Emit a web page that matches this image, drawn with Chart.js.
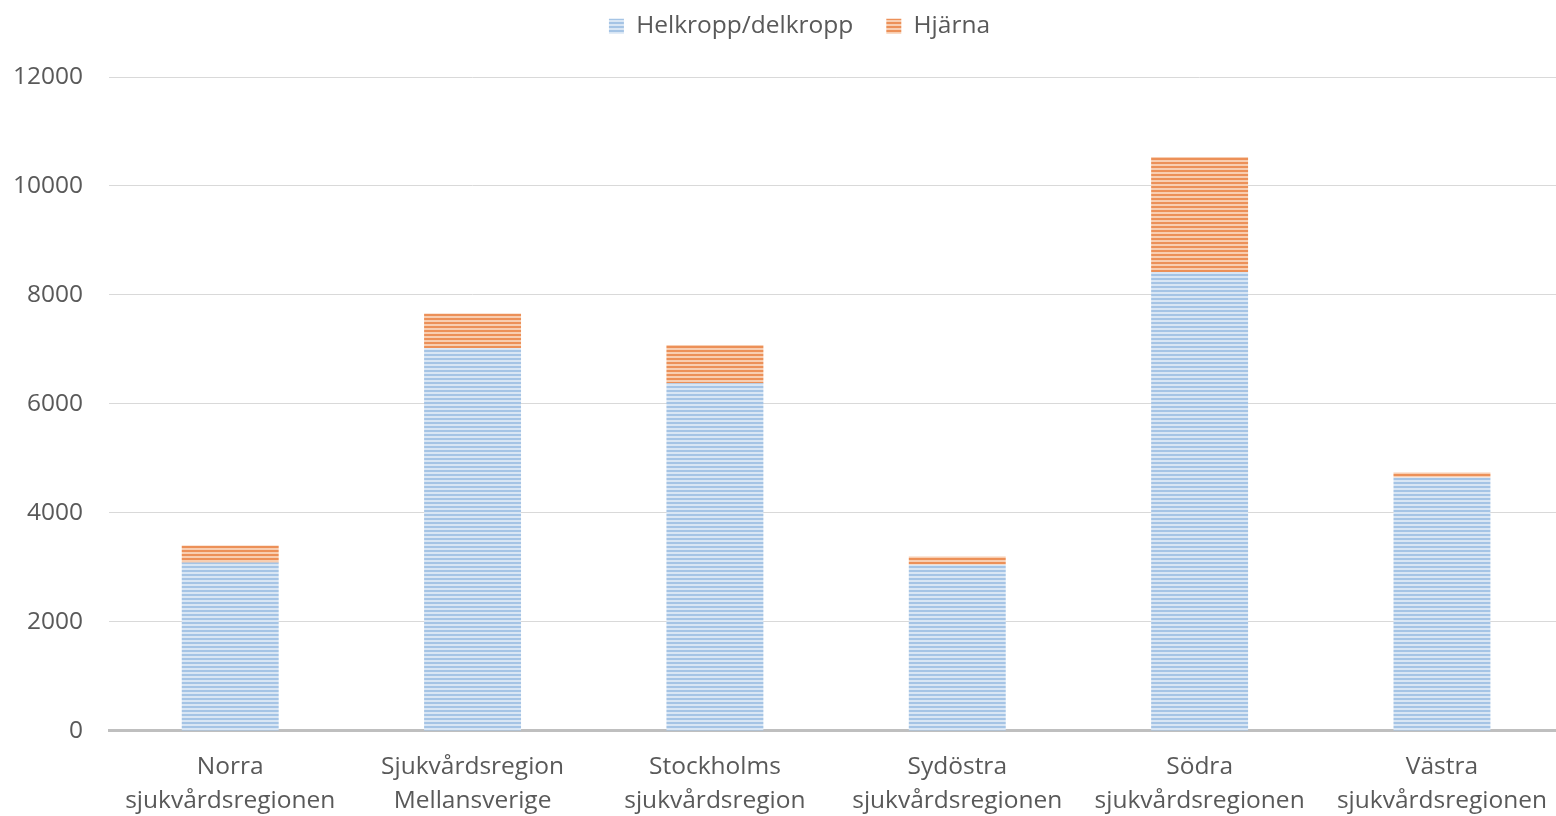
<!DOCTYPE html>
<html><head><meta charset="utf-8">
<script src="https://cdn.jsdelivr.net/npm/chart.js@4"></script>
<style>
html,body{margin:0;padding:0;background:#fff;overflow:hidden;}
#wrap{width:1566px;height:816px;position:relative;}
</style></head>
<body><div id="wrap"><canvas id="c"></canvas></div>
<script>
const categories = [
  ["Norra", "sjukvårdsregionen"],
  ["Sjukvårdsregion", "Mellansverige"],
  ["Stockholms", "sjukvårdsregion"],
  ["Sydöstra", "sjukvårdsregionen"],
  ["Södra", "sjukvårdsregionen"],
  ["Västra", "sjukvårdsregionen"]
];
const helkropp = [3090, 7020, 6380, 3050, 8420, 4650];
const hjarna = [310, 640, 700, 150, 2110, 90];
const seriesNames = ["Helkropp/delkropp", "Hjärna"];
const yTicks = [0, 2000, 4000, 6000, 8000, 10000, 12000];

function stripe(light, dark) {
  const c = document.createElement('canvas');
  c.width = 8; c.height = 4;
  const g = c.getContext('2d');
  g.fillStyle = light; g.fillRect(0, 0, 8, 4);
  g.fillStyle = dark; g.fillRect(0, 2, 8, 2);
  return g.createPattern(c, 'repeat');
}
const ctx = document.getElementById('c').getContext('2d');
const bluePat = stripe('#d9e6f4', '#a5c4e5');
const orangePat = stripe('#f8ceb1', '#ec9058');

const legendTweak = {
  id: 'legendTweak',
  afterInit(chart) {
    const l = chart.legend;
    if (!l) return;
    const f = l.fit.bind(l);
    l.fit = function () { f(); this.height = 96; };
  },
  afterLayout(chart) {
    const l = chart.legend;
    if (!l) return;
    l.left += 23; l.right += 23;
  }
};

new Chart(ctx, {
  type: 'bar',
  data: {
    labels: categories,
    datasets: [
      { label: seriesNames[0], data: helkropp, backgroundColor: bluePat, borderWidth: 0 },
      { label: seriesNames[1], data: hjarna, backgroundColor: orangePat, borderWidth: 0 }
    ]
  },
  plugins: [legendTweak],
  options: {
    responsive: true,
    maintainAspectRatio: false,
    animation: false,
    layout: { padding: { left: -13, right: 0, top: -19, bottom: -21 } },
    datasets: { bar: { barPercentage: 0.4, categoryPercentage: 1.0 } },
    plugins: {
      tooltip: { enabled: false },
      legend: {
        position: 'top',
        labels: {
          font: { family: 'Open Sans', size: 24.5 },
          color: '#595959',
          boxWidth: 15, boxHeight: 15,
          padding: 33
        }
      }
    },
    scales: {
      x: {
        stacked: true,
        grid: { display: false, drawTicks: false },
        border: { display: true, color: '#bfbfbf', width: 3 },
        ticks: { font: { family: 'Open Sans', size: 24.5, lineHeight: 1.39 }, color: '#595959', padding: 19, maxRotation: 0, autoSkip: false }
      },
      y: {
        stacked: true,
        min: 0, max: 12000,
        afterBuildTicks: (ax) => { ax.ticks = yTicks.map(v => ({ value: v })); },
        grid: { color: '#d9d9d9', lineWidth: 1, drawTicks: false },
        border: { display: false },
        ticks: { font: { family: 'Open Sans', size: 24.5 }, color: '#595959', padding: 26, callback: v => String(v) }
      }
    }
  }
});
</script></body></html>
